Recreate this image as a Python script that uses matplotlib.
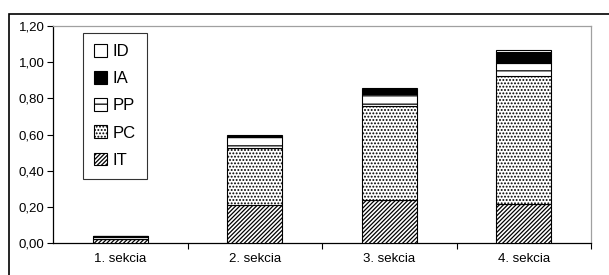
import numpy as np
import matplotlib
matplotlib.use("Agg")
import matplotlib.pyplot as plt
from matplotlib.patches import Rectangle, Patch

plt.rcParams['font.family'] = ['Liberation Sans', 'DejaVu Sans']
plt.rcParams['hatch.linewidth'] = 0.9

# data
sections = ["1. sekcia", "2. sekcia", "3. sekcia", "4. sekcia"]
IT = [0.02, 0.21, 0.24, 0.216]
PC = [0.0, 0.317, 0.52, 0.71]
PP = [0.02, 0.06, 0.066, 0.07]
IA = [0.0, 0.005, 0.026, 0.06]
ID = [0.0, 0.003, 0.005, 0.012]

series = [("IT", IT, "white", "////////"),
          ("PC", PC, "white", "....."),
          ("PP", PP, "white", "--"),
          ("IA", IA, "black", None),
          ("ID", ID, "white", None)]

fig = plt.figure(figsize=(6.09, 2.75), dpi=100)
ax = fig.add_axes([53/609, 1-243/275, 538/609, 217/275])

x = np.arange(len(sections))
bottom = np.zeros(len(sections))
handles = []
for name, vals, color, hatch in series:
    vals = np.array(vals)
    ax.bar(x, vals, 0.41, bottom=bottom, color=color, edgecolor="black",
           hatch=hatch, linewidth=0.8, zorder=3)
    bottom += vals
    handles.append(Patch(facecolor=color, edgecolor="black", hatch=hatch, linewidth=0.8, label=name))

ax.set_xlim(-0.5, 3.5)
ax.set_ylim(0, 1.2)
ax.set_yticks(np.arange(0, 1.21, 0.2))
ax.set_yticklabels([f"{v:.2f}".replace(".", ",") for v in np.arange(0, 1.21, 0.2)], fontsize=9.5)
ax.set_xticks(x)
ax.set_xticklabels(sections, fontsize=9.5)
ax.set_xticks(np.arange(0.5, 4, 1), minor=True)
ax.tick_params(axis="x", which="major", length=0, pad=7)
ax.tick_params(axis="x", which="minor", length=4, width=0.8, direction="out")
ax.tick_params(axis="y", length=4, width=0.8, pad=2)

ax.spines["left"].set_color("black")
ax.spines["bottom"].set_color("black")
ax.spines["top"].set_color("#a0a0a0")
ax.spines["right"].set_color("#a0a0a0")
for s in ax.spines.values():
    s.set_linewidth(0.9)

leg = ax.legend(handles=handles[::-1], loc="upper left", bbox_to_anchor=(30/538, 210/217),
                fontsize=12, frameon=True, fancybox=False, edgecolor="black",
                handlelength=0.8, handleheight=0.8, handletextpad=0.35,
                labelspacing=0.72, borderpad=0.65, borderaxespad=0)
leg.get_frame().set_linewidth(0.8)

# outer chart frame
fig.patches.append(Rectangle((9/609, -0.1), 1.0, 1 - 14/275 + 0.1, transform=fig.transFigure,
                             fill=False, edgecolor="black", linewidth=1.2))

fig.savefig("out.png", dpi=100)
